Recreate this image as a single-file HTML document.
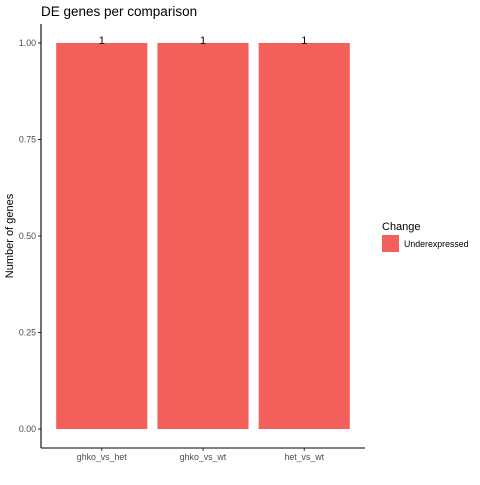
<!DOCTYPE html>
<html><head><meta charset="utf-8"><style>
body{margin:0;background:#fff;width:480px;height:480px;overflow:hidden}
text{font-family:"Liberation Sans",Arial,sans-serif}
</style></head><body>
<svg id="c" width="480" height="480" xmlns="http://www.w3.org/2000/svg">
<rect width="480" height="480" fill="#fff"/>
<text x="41" y="16" font-size="13.5" fill="#000">DE genes per comparison</text>
<text transform="translate(13,236) rotate(-90)" text-anchor="middle" font-size="11" fill="#000">Number of genes</text>
<g id="plot"></g>
<line x1="41" y1="24" x2="41" y2="448" stroke="#000" stroke-width="1.1"/>
<line x1="41" y1="448" x2="365" y2="448" stroke="#000" stroke-width="1.1"/>
<text x="382" y="230" font-size="11" fill="#000">Change</text>
<rect x="382" y="235" width="17" height="17" fill="#F3605B"/>
<text x="404" y="247" font-size="8.8" fill="#000">Underexpressed</text>
</svg>
<script>
const categories=["ghko_vs_het","ghko_vs_wt","het_vs_wt"];
const values=[1,1,1];
const yTicks=[0,0.25,0.5,0.75,1];
const yTickLabels=["0.00","0.25","0.50","0.75","1.00"];
const NS="http://www.w3.org/2000/svg";
const g=document.getElementById('plot');
const x0=41,x1=365,y0=429,y1=43;
const step=(x1-x0)/(categories.length+0.2);
const xc=i=>x0+(0.6+i)*step;
const ymax=Math.max(...values);
const y=v=>y0-(v/ymax)*(y0-y1);
function mk(t,a){const e=document.createElementNS(NS,t);for(const k in a)e.setAttribute(k,a[k]);g.appendChild(e);return e;}
yTicks.forEach((t,i)=>{
 const l=mk('line',{x1:38,x2:41,y1:y(t),y2:y(t),stroke:'#333','stroke-width':1});
 
 
 const tx=mk('text',{x:36,y:y(t)+3,'text-anchor':'end','font-size':'8.8',fill:'#4d4d4d'});
 tx.textContent=yTickLabels[i];
 
 
});
categories.forEach((c,i)=>{
 const w=step*0.9;
 const r=mk('rect',{x:xc(i)-w/2,y:y(values[i]),width:w,height:y0-y(values[i]),fill:'#F3605B'});
 
 
 const v=mk('text',{x:xc(i),y:y(values[i])+1,'text-anchor':'middle','font-size':'11',fill:'#000'});
 v.textContent=values[i];
 
 
 const t=mk('line',{x1:xc(i),x2:xc(i),y1:448,y2:451,stroke:'#333','stroke-width':1});
 
 
 const tl=mk('text',{x:xc(i),y:460,'text-anchor':'middle','font-size':'8.8',fill:'#4d4d4d'});
 tl.textContent=c;
 
 
});
</script>
</body></html>
